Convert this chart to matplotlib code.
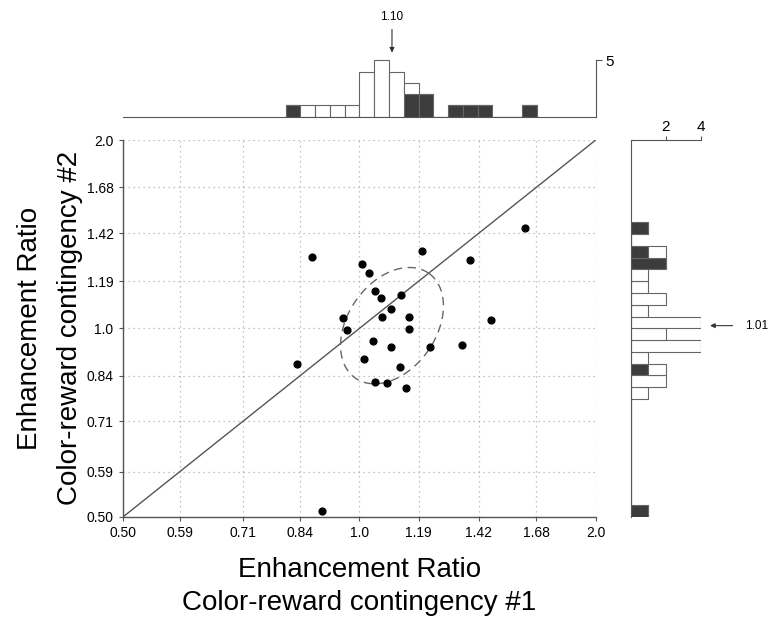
import matplotlib
matplotlib.use('Agg')
import numpy as np
import matplotlib.pyplot as plt

plt.rcParams['font.family'] = ['Liberation Sans', 'DejaVu Sans']

# enhancement ratios, one point per neuron
cr1 = [1.625, 0.869, 1.200, 1.383, 1.007, 1.029, 1.046, 1.064, 1.129, 1.096,
       0.954, 1.067, 1.156, 1.470, 0.965, 1.156, 1.039, 1.351, 1.097, 1.230,
       0.833, 1.014, 1.125, 1.046, 1.085, 1.145, 0.897]
cr2 = [1.448, 1.302, 1.329, 1.288, 1.267, 1.227, 1.149, 1.118, 1.132, 1.074,
       1.038, 1.043, 1.044, 1.030, 0.994, 0.999, 0.954, 0.942, 0.932, 0.933,
       0.876, 0.894, 0.868, 0.822, 0.817, 0.804, 0.511]
median1 = 1.10
median2 = 1.01

ticks = [0.50, 0.59, 0.71, 0.84, 1.0, 1.19, 1.42, 1.68, 2.0]
tick_labels = ['0.50', '0.59', '0.71', '0.84', '1.0', '1.19', '1.42', '1.68', '2.0']

# histograms, bins are 1/16 octave wide (edge = 2**(k/16))
top_k = np.arange(-5, 12)
top_dark = [1, 0, 0, 0, 0, 0, 0, 0, 2, 2, 0, 1, 1, 1, 0, 0, 1]
top_white = [0, 1, 1, 1, 1, 4, 5, 4, 1, 0, 0, 0, 0, 0, 0, 0, 0]
side_k = np.arange(-16, 9)
side_dark = [1, 0, 0, 0, 0, 0, 0, 0, 0, 0, 0, 0, 1, 0, 0, 0, 0, 0, 0, 0, 0, 2, 1, 0, 1]
side_white = [0, 0, 0, 0, 0, 0, 0, 0, 0, 0, 1, 2, 1, 1, 4, 2, 4, 1, 2, 1, 1, 0, 1, 0, 0]

dark = '#3c3c3c'
edge = '#666666'
W, H = 770, 619

fig = plt.figure(figsize=(7.7, 6.19), dpi=100)
ax = fig.add_axes([123.3 / W, 1 - 516.7 / H, 472.4 / W, 376.7 / H])
ax_top = fig.add_axes([123.3 / W, 1 - 116.7 / H, 472.4 / W, 106.9 / H])
ax_side = fig.add_axes([630.7 / W, 1 - 516.7 / H, 70.4 / W, 376.7 / H])

# main scatter
for a in (ax, ax_top):
    a.set_xscale('log', base=2)
    a.set_xlim(0.5, 2.0)
for a in (ax, ax_side):
    a.set_yscale('log', base=2)
    a.set_ylim(0.5, 2.0)

ax.set_xticks(ticks)
ax.set_xticklabels(tick_labels)
ax.set_yticks(ticks)
ax.set_yticklabels(tick_labels)
ax.minorticks_off()
ax.tick_params(labelsize=10, length=3, color='#555555', width=0.8, pad=4)
ax.grid(True, linestyle=(0, (1, 3)), color='#b0b0b0', linewidth=0.9)
for s in ('top', 'right'):
    ax.spines[s].set_visible(False)
for s in ('left', 'bottom'):
    ax.spines[s].set_color('#555555')
    ax.spines[s].set_linewidth(1.0)

ax.plot([0.5, 2.0], [0.5, 2.0], color='#555555', lw=1.0, zorder=2)
ax.scatter(cr1, cr2, s=24, color='black', zorder=4, clip_on=False)

# dashed ellipse around the medians (drawn in log2 space)
px_x = 472.4 / 2.0
px_y = 376.7 / 2.0
t = np.linspace(0, 2 * np.pi, 200)
ea, eb, ang = 64.0, 44.0, np.deg2rad(55)
ex = np.log2(median1) + (ea * np.cos(ang) * np.cos(t) - eb * np.sin(ang) * np.sin(t)) / px_x
ey = np.log2(median2) + (ea * np.sin(ang) * np.cos(t) + eb * np.cos(ang) * np.sin(t)) / px_y
ax.plot(2 ** ex, 2 ** ey, color='#666666', lw=1.0, linestyle=(0, (6, 4)), zorder=3)

fig.text(359.5 / W, 1 - 570 / H, 'Enhancement Ratio', ha='center', va='center', fontsize=20)
fig.text(359.5 / W, 1 - 603 / H, 'Color-reward contingency #1', ha='center', va='center', fontsize=20)
fig.text(30 / W, 1 - 328 / H, 'Enhancement Ratio', ha='center', va='center', fontsize=20, rotation=90)
fig.text(70 / W, 1 - 328 / H, 'Color-reward contingency #2', ha='center', va='center', fontsize=20, rotation=90)

# top histogram
lo = 2.0 ** (top_k / 16)
hi = 2.0 ** ((top_k + 1) / 16)
ax_top.bar(lo, top_dark, width=hi - lo, align='edge', color=dark, edgecolor=edge, lw=0.8)
ax_top.bar(lo, top_white, width=hi - lo, bottom=top_dark, align='edge', color='white', edgecolor=edge, lw=0.8)
ax_top.set_ylim(0, 9.5)
ax_top.minorticks_off()
ax_top.set_xticks([])
for s in ('top', 'left'):
    ax_top.spines[s].set_visible(False)
ax_top.spines['bottom'].set_color('#555555')
ax_top.spines['right'].set_color('#555555')
ax_top.spines['right'].set_bounds(0, 5)
ax_top.yaxis.tick_right()
ax_top.set_yticks([5])
ax_top.set_yticklabels(['5'])
ax_top.tick_params(axis='y', length=4, color='#555555', labelsize=11, pad=3)
ax_top.patch.set_alpha(0)
ax_top.annotate('', xy=(median1, 5.45), xytext=(median1, 8.0),
                arrowprops=dict(arrowstyle='-|>', color='#333333', lw=0.8, mutation_scale=7))
ax_top.text(median1, 8.9, '%.2f' % median1, ha='center', va='center', fontsize=8.5)

# side histogram
lo = 2.0 ** (side_k / 16)
hi = 2.0 ** ((side_k + 1) / 16)
ax_side.barh(lo, side_dark, height=hi - lo, align='edge', color=dark, edgecolor=edge, lw=0.8)
ax_side.barh(lo, side_white, height=hi - lo, left=side_dark, align='edge', color='white', edgecolor=edge, lw=0.8)
ax_side.set_xlim(0, 4)
ax_side.minorticks_off()
ax_side.set_yticks([])
for s in ('right', 'bottom'):
    ax_side.spines[s].set_visible(False)
ax_side.spines['left'].set_color('#555555')
ax_side.spines['top'].set_color('#555555')
ax_side.xaxis.tick_top()
ax_side.set_xticks([2, 4])
ax_side.set_xticklabels(['2', '4'])
ax_side.tick_params(axis='x', length=3, color='#555555', labelsize=11, pad=1)
ax_side.patch.set_alpha(0)
ax_side.annotate('', xy=(4.35, median2), xytext=(5.95, median2), annotation_clip=False,
                 arrowprops=dict(arrowstyle='-|>', color='#333333', lw=0.8, mutation_scale=7))
ax_side.text(6.5, median2, '%.2f' % median2, ha='left', va='center', fontsize=8.5, clip_on=False)

plt.savefig('out.png', dpi=100)
